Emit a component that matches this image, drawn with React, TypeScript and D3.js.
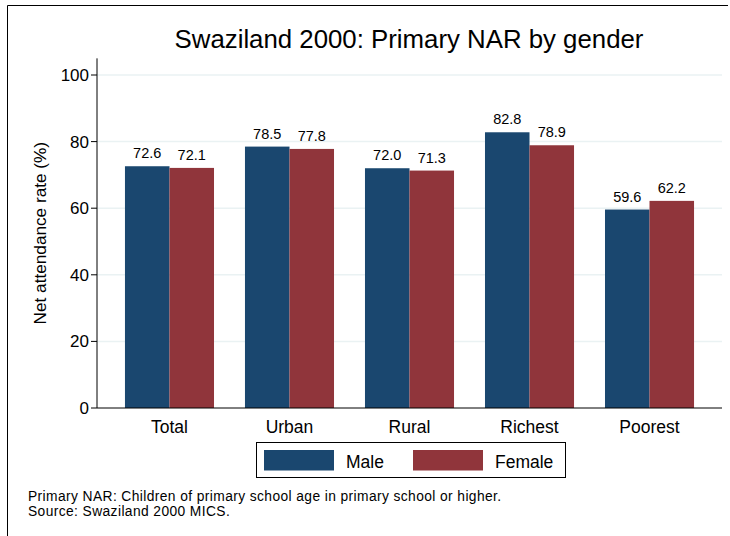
import React from "react";
import * as d3 from "d3";

const categories = ["Total", "Urban", "Rural", "Richest", "Poorest"];
const seriesNames = ["Male", "Female"];
const maleValues = [72.6, 78.5, 72.0, 82.8, 59.6];
const femaleValues = [72.1, 77.8, 71.3, 78.9, 62.2];
const yTicks = [0, 20, 40, 60, 80, 100];
const titleText = "Swaziland 2000: Primary NAR by gender";
const yTitle = "Net attendance rate (%)";
const notes = [
  "Primary NAR: Children of primary school age in primary school or higher.",
  "Source: Swaziland 2000 MICS.",
];

const colors = ["#1a476f", "#90353b"];
const FONT = "'Liberation Sans', Arial, Helvetica, sans-serif";

export default function App() {
  const W = 730;
  const H = 536;
  const left = 97;
  const right = 722;
  const y = d3.scaleLinear().domain([0, 100]).range([408, 75]);
  const x0 = d3
    .scaleBand<string>()
    .domain(categories)
    .range([left, right])
    .paddingInner(0.258)
    .paddingOuter(0.233);
  const x1 = d3.scaleBand<string>().domain(seriesNames).range([0, x0.bandwidth()]);
  const series = [maleValues, femaleValues];

  return (
    <svg
      width={W}
      height={H}
      style={{ position: "absolute", left: 0, top: 0, background: "#fff" }}
      fontFamily={FONT}
    >
      <rect x={0} y={0} width={W} height={H} fill="#fff" />
      {/* outer frame */}
      <line x1={7.5} y1={5.5} x2={728} y2={5.5} stroke="#000" strokeWidth={1} />
      <line x1={7.5} y1={5.5} x2={7.5} y2={H} stroke="#000" strokeWidth={1} />

      <text x={409} y={47.5} textAnchor="middle" fontSize={25.8} fill="#000">
        {titleText}
      </text>

      {/* gridlines */}
      {yTicks
        .filter((t) => t > 0)
        .map((t) => (
          <line
            key={"g" + t}
            x1={left}
            x2={right}
            y1={y(t)}
            y2={y(t)}
            stroke="#eaf2f3"
            strokeWidth={1.5}
          />
        ))}

      {/* bars */}
      {categories.map((c, i) => (
        <g key={c} transform={`translate(${x0(c)},0)`}>
          {seriesNames.map((s, j) => (
            <rect
              key={s}
              x={x1(s)}
              y={y(series[j][i])}
              width={x1.bandwidth()}
              height={y(0) - y(series[j][i])}
              fill={colors[j]}
            />
          ))}
          {seriesNames.map((s, j) => (
            <text
              key={"v" + s}
              x={(x1(s) as number) + x1.bandwidth() / 2}
              y={y(series[j][i]) - 8}
              textAnchor="middle"
              fontSize={14.5}
              fill="#000"
            >
              {series[j][i].toFixed(1)}
            </text>
          ))}
          <text
            x={x0.bandwidth() / 2}
            y={432.7}
            textAnchor="middle"
            fontSize={17.5}
            fill="#000"
          >
            {c}
          </text>
        </g>
      ))}

      {/* axes */}
      <line x1={left} x2={right} y1={y(0)} y2={y(0)} stroke="#000" strokeWidth={1} />
      <line x1={left} x2={left} y1={y(0)} y2={y(105)} stroke="#000" strokeWidth={1} />
      {yTicks.map((t) => (
        <g key={"t" + t}>
          <line x1={left - 6} x2={left} y1={y(t)} y2={y(t)} stroke="#000" strokeWidth={1} />
          <text
            x={left - 8}
            y={y(t)}
            dy="0.35em"
            textAnchor="end"
            fontSize={17}
            fill="#000"
          >
            {t}
          </text>
        </g>
      ))}
      <text
        transform={`translate(46,${(y(0) + y(105)) / 2}) rotate(-90)`}
        textAnchor="middle"
        fontSize={17.2}
        fill="#000"
      >
        {yTitle}
      </text>

      {/* legend */}
      <rect x={256.5} y={442.5} width={309} height={35} fill="#fff" stroke="#000" strokeWidth={1} />
      {seriesNames.map((s, j) => (
        <g key={"l" + s}>
          <rect x={264 + j * 149} y={450} width={70} height={20.5} fill={colors[j]} />
          <text x={346 + j * 149} y={467.5} fontSize={17.5} fill="#000">
            {s}
          </text>
        </g>
      ))}

      {notes.map((n, i) => (
        <text
          key={n}
          x={28}
          y={501 + i * 15.2}
          fontSize={13.8}
          letterSpacing={0.4}
          fill="#000"
        >
          {n}
        </text>
      ))}
    </svg>
  );
}
